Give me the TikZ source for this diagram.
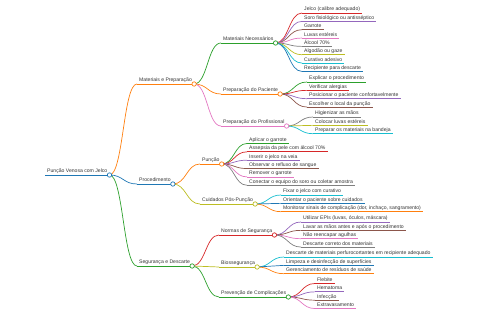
\documentclass[tikz,border=0pt]{standalone}
\usepackage{fontspec}
\setmainfont{Liberation Sans}
\usetikzlibrary{calc}
\definecolor{cBlue}{HTML}{1F77B4}
\definecolor{cOrange}{HTML}{FF7F0E}
\definecolor{cGreen}{HTML}{2CA02C}
\definecolor{cRed}{HTML}{D62728}
\definecolor{cPurple}{HTML}{9467BD}
\definecolor{cBrown}{HTML}{8C564B}
\definecolor{cPink}{HTML}{E377C2}
\definecolor{cGrey}{HTML}{7F7F7F}
\definecolor{cOlive}{HTML}{BCBD22}
\definecolor{cCyan}{HTML}{17BECF}
\definecolor{txt}{HTML}{333333}
\tikzset{
  topic/.style={anchor=south west, inner xsep=2pt, inner ysep=0.8pt, text depth=1pt, text=txt,
    font=\fontsize{5.1}{6}\selectfont},
  uline/.style={line width=0.7pt},
  branch/.style={line width=0.7pt, to path={let \p1=(\tikztostart), \p2=(\tikztotarget), \n1={0.5*(\x2-\x1)} in .. controls +(\n1,0pt) and +(-\n1,0pt) .. (\tikztotarget)}},
  knob/.style={draw=#1, fill=white, line width=0.7pt}
}
\begin{document}
\begin{tikzpicture}[x=1pt, y=-1pt]
\useasboundingbox (0,0) rectangle (480,320);
\node[topic] (root) at (45,175) {Punção Venosa com Jelco};
\node[topic] (mp) at (137,84) {Materiais e Preparação};
\node[topic] (pr) at (137,184) {Procedimento};
\node[topic] (sd) at (137,266) {Segurança e Descarte};
\foreach \c/\col in {mp/cOrange, pr/cBlue, sd/cGreen}
  \draw[branch, \col] (root.south east) to (\c.south west);
% second level
\node[topic] (mn) at (221,43) {Materiais Necessários};
\node[topic] (pp) at (221,94) {Preparação do Paciente};
\node[topic] (pf) at (221,126) {Preparação do Profissional};
\node[topic] (pu) at (200,164) {Punção};
\node[topic] (cp) at (200,204) {Cuidados Pós-Punção};
\node[topic] (ns) at (219,235) {Normas de Segurança};
\node[topic] (bs) at (219,267) {Biossegurança};
\node[topic] (pc) at (219,297) {Prevenção de Complicações};
\foreach \a/\c/\col in {mp/mn/cGreen, mp/pp/cOrange, mp/pf/cPink, pr/pu/cOrange, pr/cp/cOlive,
    sd/ns/cRed, sd/bs/cOlive, sd/pc/cGreen}
  \draw[branch, \col] (\a.south east) to (\c.south west);
% leaves
\foreach \txt/\col [count=\i] in {Jelco (calibre adequado)/cRed, Soro fisiológico ou antisséptico/cPurple,
    Garrote/cBrown, Luvas estéreis/cPink, Álcool 70\%/cGrey, Algodão ou gaze/cOlive,
    Curativo adesivo/cCyan, Recipiente para descarte/cBlue}{
  \node[topic] (mn\i) at (302,4.65+8.35*\i) {\txt};
  \draw[branch, \col] (mn.south east) to (mn\i.south west);
  \draw[uline, \col] (mn\i.south west) -- (mn\i.south east);
}
\foreach \txt/\col [count=\i] in {Explicar o procedimento/cGreen, Verificar alergias/cRed,
    Posicionar o paciente confortavelmente/cPurple, Escolher o local da punção/cBrown}{
  \node[topic] (pp\i) at (307,73.65+8.35*\i) {\txt};
  \draw[branch, \col] (pp.south east) to (pp\i.south west);
  \draw[uline, \col] (pp\i.south west) -- (pp\i.south east);
}
\foreach \txt/\col [count=\i] in {Higienizar as mãos/cGrey, Colocar luvas estéreis/cOlive,
    Preparar os materiais na bandeja/cCyan}{
  \node[topic] (pf\i) at (313,108.65+8.35*\i) {\txt};
  \draw[branch, \col] (pf.south east) to (pf\i.south west);
  \draw[uline, \col] (pf\i.south west) -- (pf\i.south east);
}
\foreach \txt/\col [count=\i] in {Aplicar o garrote/cGreen, Assepsia da pele com álcool 70\%/cRed,
    Inserir o jelco na veia/cPurple, Observar o refluxo de sangue/cBrown, Remover o garrote/cPink,
    Conectar o equipo do soro ou coletar amostra/cGrey}{
  \node[topic] (pu\i) at (247,135.15+8.35*\i) {\txt};
  \draw[branch, \col] (pu.south east) to (pu\i.south west);
  \draw[uline, \col] (pu\i.south west) -- (pu\i.south east);
}
\foreach \txt/\col [count=\i] in {Fixar o jelco com curativo/cCyan, Orientar o paciente sobre cuidados/cBlue,
    {Monitorar sinais de complicação (dor, inchaço, sangramento)}/cOrange}{
  \node[topic] (cp\i) at (281,186.65+8.35*\i) {\txt};
  \draw[branch, \col] (cp.south east) to (cp\i.south west);
  \draw[uline, \col] (cp\i.south west) -- (cp\i.south east);
}
\foreach \txt/\col [count=\i] in {{Utilizar EPIs (luvas, óculos, máscara)}/cPurple,
    Lavar as mãos antes e após o procedimento/cBrown, Não reencapar agulhas/cPink,
    Descarte correto dos materiais/cGrey}{
  \node[topic] (ns\i) at (301,213.65+8.35*\i) {\txt};
  \draw[branch, \col] (ns.south east) to (ns\i.south west);
  \draw[uline, \col] (ns\i.south west) -- (ns\i.south east);
}
\foreach \txt/\col [count=\i] in {Descarte de materiais perfurocortantes em recipiente adequado/cCyan,
    Limpeza e desinfecção de superfícies/cBlue, Gerenciamento de resíduos de saúde/cOrange}{
  \node[topic] (bs\i) at (284,248.65+8.35*\i) {\txt};
  \draw[branch, \col] (bs.south east) to (bs\i.south west);
  \draw[uline, \col] (bs\i.south west) -- (bs\i.south east);
}
\foreach \txt/\col [count=\i] in {Flebite/cRed, Hematoma/cPurple, Infecção/cBrown, Extravasamento/cPink}{
  \node[topic] (pc\i) at (315,275.15+8.35*\i) {\txt};
  \draw[branch, \col] (pc.south east) to (pc\i.south west);
  \draw[uline, \col] (pc\i.south west) -- (pc\i.south east);
}
% underlines and knobs of the inner topics
\foreach \c/\col in {root/cBlue, mp/cOrange, pr/cBlue, sd/cGreen, mn/cGreen, pp/cOrange, pf/cPink,
    pu/cOrange, cp/cOlive, ns/cRed, bs/cOlive, pc/cGreen}{
  \draw[uline, \col] (\c.south west) -- (\c.south east);
  \draw[knob=\col] (\c.south east) circle (2.2pt);
}
\end{tikzpicture}
\end{document}
